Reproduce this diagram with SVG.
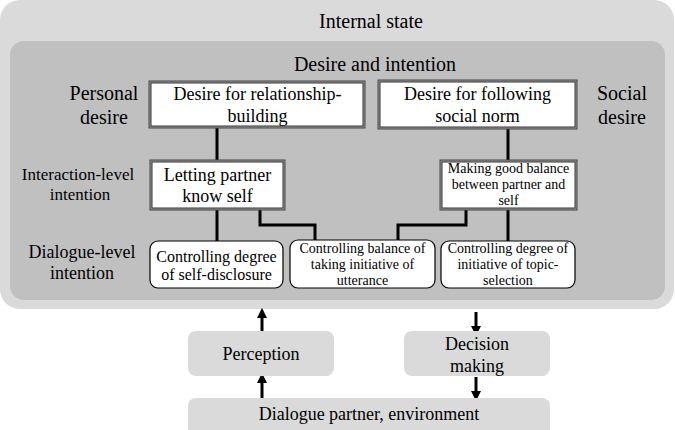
<svg xmlns="http://www.w3.org/2000/svg" width="675" height="430" viewBox="0 0 675 430">
<defs>
<marker id="ah" viewBox="0 0 10 10" refX="5" refY="5" markerWidth="3.4" markerHeight="3.4" orient="auto"><path d="M0,0 L10,5 L0,10 z" fill="#000"/></marker>
</defs>
<style>
text{font-family:"Liberation Serif","Times New Roman",serif;fill:#000;text-anchor:middle}
.t20{font-size:20px}
.t18{font-size:18px}
.t17{font-size:17px}
.t16{font-size:16px}
.t14{font-size:14px}
.dbl-o{fill:#9a9a9a;stroke:#444;stroke-width:1}
.dbl-i{fill:#fff;stroke:#333;stroke-width:1}
.rnd{fill:#fff;stroke:#000;stroke-width:1.2}
.lg{fill:#dadada}
.conn{fill:none;stroke:#000;stroke-width:3}
.arr{fill:none;stroke:#000;stroke-width:3;marker-end:url(#ah)}
</style>
<g id="internal-state">
<rect x="0" y="0" width="674" height="309" rx="20" class="lg"/>
<text class="t20" x="371" y="28">Internal state</text>
</g>
<g id="desire-intention">
<rect x="10" y="41" width="655" height="259" rx="14" fill="#c0c0c0"/>
<text class="t20" x="375" y="71">Desire and intention</text>
</g>
<g id="labels">
<text class="t20" x="104" y="100">Personal</text>
<text class="t20" x="104" y="124">desire</text>
<text class="t20" x="622" y="100">Social</text>
<text class="t20" x="622" y="124">desire</text>
<text class="t17" x="78" y="180">Interaction-level</text>
<text class="t17" x="80" y="200">intention</text>
<text class="t18" x="82" y="258">Dialogue-level</text>
<text class="t18" x="82" y="279">intention</text>
</g>
<g id="connectors">
<path class="conn" d="M217,128 V161"/>
<path class="conn" d="M217,210 V241"/>
<path class="conn" d="M260,210 V225 H315 V240"/>
<path class="conn" d="M508,129 V160"/>
<path class="conn" d="M508,210 V241"/>
<path class="conn" d="M466,210 V225 H398 V240"/>
<path class="arr" d="M262,331 V313"/>
<path class="arr" d="M476,312 V331"/>
<path class="arr" d="M262,398 V378"/>
<path class="arr" d="M476,377 V396"/>
</g>
<g id="relationship">
<rect x="149" y="81" width="216" height="47" class="dbl-o"/>
<rect x="151" y="83" width="212" height="43" class="dbl-i"/>
<text class="t18" x="257.5" y="100">Desire for relationship-</text>
<text class="t18" x="257.5" y="122">building</text>
</g>
<g id="social-norm">
<rect x="378" y="80" width="199" height="49" class="dbl-o"/>
<rect x="380" y="82" width="195" height="45" class="dbl-i"/>
<text class="t18" x="477.5" y="100">Desire for following</text>
<text class="t18" x="477.5" y="122">social norm</text>
</g>
<g id="letting-partner">
<rect x="150" y="160" width="135" height="50" class="dbl-o"/>
<rect x="152" y="162" width="131" height="46" class="dbl-i"/>
<text class="t18" x="217.5" y="181">Letting partner</text>
<text class="t18" x="217.5" y="202">know self</text>
</g>
<g id="good-balance">
<rect x="440" y="160" width="137" height="50" class="dbl-o"/>
<rect x="442" y="162" width="133" height="46" class="dbl-i"/>
<text class="t14" x="508.5" y="173">Making good balance</text>
<text class="t14" x="508.5" y="189">between partner and</text>
<text class="t14" x="508.5" y="205">self</text>
</g>
<g id="self-disclosure">
<rect x="150" y="241" width="133" height="47" rx="8" class="rnd"/>
<text class="t16" x="216.5" y="262">Controlling degree</text>
<text class="t16" x="216.5" y="280">of self-disclosure</text>
</g>
<g id="utterance">
<rect x="290" y="240" width="145" height="48" rx="8" class="rnd"/>
<text class="t14" x="362.5" y="253">Controlling balance of</text>
<text class="t14" x="362.5" y="269">taking initiative of</text>
<text class="t14" x="362.5" y="285">utterance</text>
</g>
<g id="topic-selection">
<rect x="441" y="241" width="134" height="47" rx="8" class="rnd"/>
<text class="t14" x="508" y="253">Controlling degree of</text>
<text class="t14" x="508" y="269">initiative of topic-</text>
<text class="t14" x="508" y="285">selection</text>
</g>
<g id="perception">
<rect x="188" y="331" width="146" height="45" rx="8" class="lg"/>
<text class="t18" x="261" y="360">Perception</text>
</g>
<g id="decision">
<rect x="404" y="331" width="146" height="45" rx="8" class="lg"/>
<text class="t18" x="477" y="350">Decision</text>
<text class="t18" x="477" y="372">making</text>
</g>
<g id="partner-env">
<rect x="188" y="398" width="362" height="40" rx="8" class="lg"/>
<text class="t18" x="369" y="420">Dialogue partner, environment</text>
</g>
</svg>
